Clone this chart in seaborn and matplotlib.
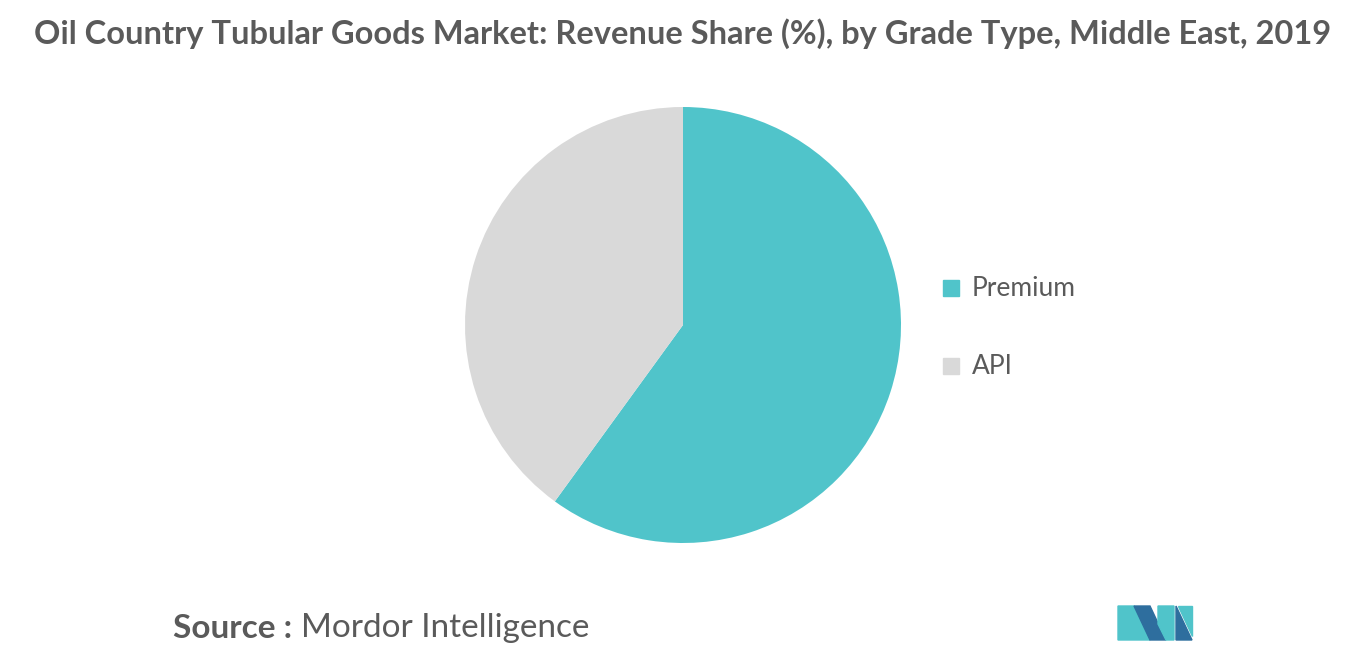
import matplotlib
matplotlib.use("Agg")
import matplotlib.pyplot as plt
import seaborn as sns
from matplotlib.patches import Polygon

sns.set_theme(style="white")

categories = ["Premium", "API"]
shares = [60, 40]
colors = ["#50C4CA", "#D9D9D9"]

fig = plt.figure(figsize=(13.66, 6.55), dpi=100)
ax = fig.add_axes([0, 0, 1, 1])
ax.set_xlim(0, 1366)
ax.set_ylim(655, 0)
ax.axis("off")

R = 218
pax = fig.add_axes([(683 - R) / 1366, 1 - (325 + R) / 655, 2 * R / 1366, 2 * R / 655])
wedges, _ = pax.pie(shares, colors=colors, startangle=90, counterclock=False,
                    wedgeprops=dict(linewidth=0))
pax.set_xlim(-1, 1)
pax.set_ylim(-1, 1)
pax.set_aspect("equal")

fig.text(683 / 1366, 1 - 34 / 655,
         "Oil Country Tubular Goods Market: Revenue Share (%), by Grade Type, Middle East, 2019",
         ha="center", va="center", fontsize=23.5, color="#5a5a5a", fontfamily="Lato", fontweight="bold")

for i, (c, col) in enumerate(zip(categories, colors)):
    y = 288 + i * 78
    ax.add_patch(plt.Rectangle((943, y - 8), 16, 16, color=col))
    ax.text(972, y, c, va="center", ha="left", fontsize=19, color="#5a5a5a", fontfamily="Lato")

ax.text(173, 628, "Source :", va="center", ha="left", fontsize=24, color="#5a5a5a",
        fontfamily="Lato", fontweight="bold")
ax.text(301, 628, "Mordor Intelligence", va="center", ha="left", fontsize=24, color="#5a5a5a",
        fontfamily="Lato")

# logo
dark = "#2E6E9E"
teal = "#50C4CA"
ax.add_patch(Polygon([(1118, 640), (1118, 606), (1134, 606), (1150, 640)], color=teal))
ax.add_patch(Polygon([(1134, 606), (1150, 606), (1166, 640), (1150, 640)], color=dark))
ax.add_patch(Polygon([(1158, 606), (1174, 606), (1174, 640), (1166, 640), (1158, 624)], color=teal))
ax.add_patch(Polygon([(1176, 606), (1192, 640), (1176, 640)], color=dark))
ax.add_patch(Polygon([(1178, 606), (1192, 606), (1192, 636)], color=teal))

fig.savefig("out.png", dpi=100)
